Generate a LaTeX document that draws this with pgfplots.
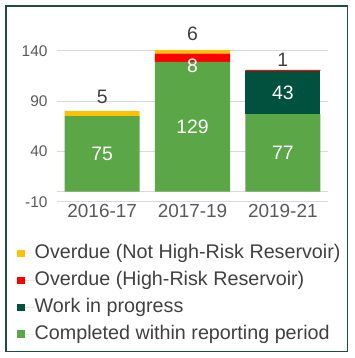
\documentclass[border=0pt]{standalone}
\usepackage{fontspec}
\setmainfont{Liberation Sans}
\usepackage{pgfplots}
\pgfplotsset{compat=1.18}
\definecolor{cgreen}{HTML}{5BA646}
\definecolor{cdark}{HTML}{00513E}
\definecolor{cred}{HTML}{FF0000}
\definecolor{cyellow}{HTML}{FFC000}
\definecolor{cframe}{HTML}{1F4E3D}
\definecolor{cgrid}{HTML}{D9D9D9}
\definecolor{ctick}{HTML}{595959}
\definecolor{ctext}{HTML}{404040}
\begin{document}
\begin{tikzpicture}
\path[use as bounding box] (0bp,0bp) rectangle (355bp,-358bp);
\draw[cframe, line width=1.3bp] (6bp,-6bp) rectangle (347.5bp,-351.5bp);
\begin{axis}[
  at={(57bp,-201.7bp)}, anchor=south west,
  scale only axis, width=271bp, height=151bp,
  xmin=-0.5, xmax=2.5, ymin=-10, ymax=140,
  ybar stacked, bar width=75bp,
  xtick={0,1,2}, xticklabels={2016-17,2017-19,2019-21},
  ytick={-10,40,90,140},
  ymajorgrids, grid style={draw=cgrid, line width=0.8bp},
  axis line style={draw=none}, major tick length=0pt,
  tick label style={text=ctick},
  yticklabel style={font=\fontsize{15.5}{16}\selectfont, xshift=-6bp},
  xticklabel style={font=\fontsize{19}{19}\selectfont, yshift=1bp},
  /pgf/number format/assume math mode=true,
  reverse legend,
  legend cell align=left,
  legend style={at={(-0.1476,-0.285)}, anchor=north west, draw=none, fill=none,
    font=\fontsize{19.8}{20}\selectfont, text=ctext, row sep=8.8bp,
    nodes={inner sep=0pt, text height=14bp, text depth=4bp},
    inner sep=0pt, column sep=0pt},
  every axis plot post/.append style={legend image code/.code={\fill[##1] (0bp,-3.5bp) rectangle (7.5bp,4bp); \path (0bp,0bp) -- (17.5bp,0bp);}},
]
\addplot[fill=cgreen, draw=none] coordinates {(0,75) (1,129) (2,77)};
\addlegendentry{Completed within reporting period}
\addplot[fill=cdark, draw=none] coordinates {(0,0) (1,0) (2,43)};
\addlegendentry{Work in progress}
\addplot[fill=cred, draw=none] coordinates {(0,0) (1,8) (2,1)};
\addlegendentry{Overdue (High-Risk Reservoir)}
\addplot[fill=cyellow, draw=none] coordinates {(0,5) (1,6) (2,0)};
\addlegendentry{Overdue (Not High-Risk Reservoir)}
\draw[cgrid, line width=0.8bp] (axis cs:-0.5,0) -- (axis cs:2.5,0);
\coordinate (a1) at (axis cs:0,37.5);
\coordinate (a2) at (axis cs:1,64.5);
\coordinate (a3) at (axis cs:2,38.5);
\coordinate (a4) at (axis cs:2,98.5);
\coordinate (a5) at (axis cs:1,125.4);
\coordinate (b1) at (axis cs:0,94.4);
\coordinate (b2) at (axis cs:1,156.4);
\coordinate (b3) at (axis cs:2,131.4);
\end{axis}
\begin{scope}[every node/.style={font=\fontsize{19.5}{19.5}\selectfont}]
\node[white] at (a1) {75};
\node[white] at (a2) {129};
\node[white] at (a3) {77};
\node[white] at (a4) {43};
\node[white] at (a5) {8};
\node[text=ctext] at (b1) {5};
\node[text=ctext] at (b2) {6};
\node[text=ctext] at (b3) {1};
\end{scope}
\end{tikzpicture}
\end{document}
